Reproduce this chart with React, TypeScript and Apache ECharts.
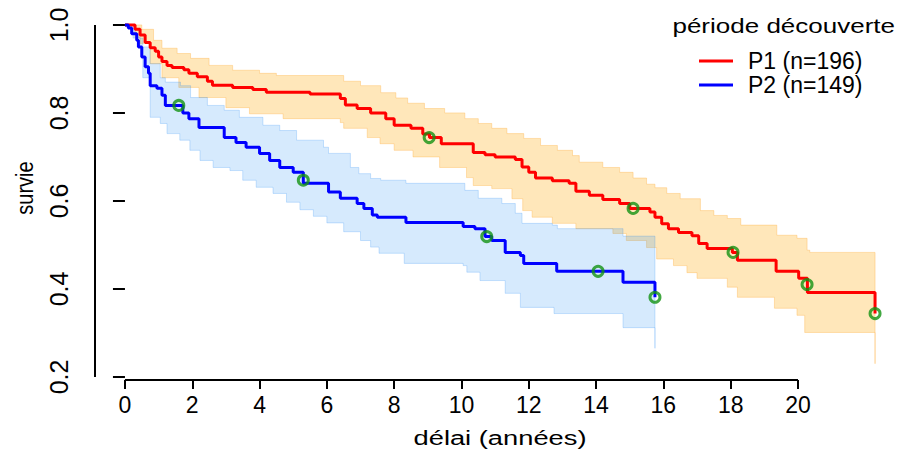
import React, { useEffect, useRef } from 'react';
import * as echarts from 'echarts';

const FONT = '"Liberation Sans", Arial, Helvetica, sans-serif';

const xTicks = [0, 2, 4, 6, 8, 10, 12, 14, 16, 18, 20];
const yTicks = [0.2, 0.4, 0.6, 0.8, 1.0];
const xLimits = [-0.89, 23.18];
const yLimits = [0.193, 1.03];

const seriesNames = ['P1 (n=196)', 'P2 (n=149)'];
const legendTitle = 'période découverte';
const xTitle = 'délai (années)';
const yTitle = 'survie';

// P1 (red) Kaplan-Meier estimate
const p1Time = [0, 0.3, 0.45, 0.6, 0.75, 0.9, 1.0, 1.1, 1.25, 1.4, 1.75, 1.9, 2.15, 2.45, 2.6, 3.2, 3.8, 4.2, 5.5, 6.4, 6.55, 6.9, 7.3, 7.75, 8.0, 8.5, 8.85, 9.05, 9.4, 10.35, 10.7, 11.0, 11.6, 11.8, 12.0, 12.2, 12.7, 13.2, 13.4, 13.8, 14.2, 14.7, 15.0, 15.6, 15.75, 15.95, 16.15, 16.45, 16.85, 17.05, 17.3, 18.05, 18.2, 19.35, 20.02, 20.28, 22.29];
const p1Surv = [1.0, 0.99, 0.977, 0.96, 0.948, 0.94, 0.927, 0.917, 0.908, 0.903, 0.898, 0.89, 0.882, 0.872, 0.863, 0.858, 0.853, 0.847, 0.843, 0.833, 0.818, 0.81, 0.8, 0.787, 0.772, 0.765, 0.752, 0.744, 0.73, 0.71, 0.705, 0.7, 0.694, 0.677, 0.665, 0.652, 0.646, 0.64, 0.622, 0.613, 0.603, 0.594, 0.583, 0.575, 0.563, 0.548, 0.537, 0.528, 0.521, 0.503, 0.492, 0.483, 0.465, 0.44, 0.424, 0.392, 0.344];
const p1UpperTime = [0, 0.5, 0.85, 1.1, 1.55, 1.95, 2.5, 3.2, 4.0, 4.5, 6.5, 7.0, 7.6, 8.05, 8.4, 8.9, 9.5, 10.1, 10.5, 10.9, 11.35, 11.85, 12.35, 12.85, 13.3, 13.5, 14.2, 14.7, 15.1, 15.5, 15.75, 16.1, 16.5, 17.1, 17.5, 17.9, 18.3, 19.37, 19.97, 20.27, 20.35, 22.29];
const p1Upper = [1.0, 0.99, 0.965, 0.947, 0.935, 0.924, 0.908, 0.897, 0.89, 0.885, 0.872, 0.862, 0.846, 0.834, 0.822, 0.81, 0.8, 0.787, 0.776, 0.765, 0.753, 0.742, 0.726, 0.715, 0.703, 0.688, 0.676, 0.665, 0.652, 0.638, 0.63, 0.617, 0.605, 0.578, 0.567, 0.56, 0.545, 0.522, 0.515, 0.488, 0.483, 0.483];
const p1LowerTime = [0, 0.3, 0.45, 0.75, 1.1, 1.6, 2.2, 3.0, 3.7, 4.7, 6.4, 6.5, 7.2, 7.58, 8.0, 8.56, 9.35, 10.15, 10.35, 10.9, 11.5, 11.82, 12.1, 12.7, 13.4, 14.5, 14.9, 15.5, 15.8, 16.3, 16.7, 17.0, 17.9, 18.2, 19.3, 19.97, 20.2, 22.29];
const p1Lower = [1.0, 0.97, 0.958, 0.912, 0.88, 0.858, 0.835, 0.812, 0.798, 0.787, 0.778, 0.765, 0.744, 0.73, 0.715, 0.7, 0.676, 0.653, 0.635, 0.628, 0.605, 0.578, 0.563, 0.549, 0.537, 0.526, 0.51, 0.494, 0.468, 0.453, 0.437, 0.424, 0.404, 0.381, 0.356, 0.34, 0.301, 0.23];

// P2 (blue) Kaplan-Meier estimate
const p2Time = [0, 0.1, 0.2, 0.35, 0.4, 0.5, 0.6, 0.7, 0.75, 0.95, 1.1, 1.2, 1.72, 1.9, 2.2, 2.95, 3.3, 3.6, 4.0, 4.3, 4.6, 5.0, 5.3, 6.05, 6.4, 6.9, 7.1, 7.35, 7.5, 8.35, 10.05, 10.4, 10.7, 10.9, 11.3, 11.75, 11.85, 12.83, 14.8, 15.75];
const p2Surv = [1.0, 0.993, 0.98, 0.965, 0.95, 0.927, 0.905, 0.89, 0.862, 0.856, 0.84, 0.817, 0.8, 0.787, 0.767, 0.744, 0.733, 0.722, 0.708, 0.692, 0.676, 0.665, 0.64, 0.62, 0.606, 0.594, 0.583, 0.568, 0.563, 0.551, 0.542, 0.537, 0.519, 0.51, 0.483, 0.476, 0.458, 0.44, 0.415, 0.381];
const p2UpperTime = [0, 0.3, 0.45, 0.75, 1.05, 1.2, 1.65, 1.95, 2.45, 2.95, 3.4, 4.1, 4.6, 5.1, 5.9, 6.05, 6.7, 6.95, 7.3, 7.6, 8.35, 10.1, 10.5, 11.2, 11.6, 11.8, 12.7, 12.85, 14.8, 15.75];
const p2Upper = [1.0, 0.98, 0.95, 0.912, 0.88, 0.87, 0.862, 0.835, 0.817, 0.806, 0.79, 0.772, 0.76, 0.738, 0.722, 0.708, 0.676, 0.662, 0.651, 0.647, 0.64, 0.624, 0.606, 0.594, 0.572, 0.549, 0.545, 0.537, 0.52, 0.517];
const p2LowerTime = [0, 0.24, 0.53, 0.75, 1.05, 1.25, 1.63, 1.93, 2.23, 2.62, 3.12, 3.5, 3.9, 4.4, 4.8, 5.2, 5.6, 6.0, 6.5, 7.0, 7.3, 7.55, 8.3, 10.05, 10.16, 10.55, 11.3, 11.75, 12.75, 14.8, 15.75];
const p2Lower = [1.0, 0.97, 0.88, 0.79, 0.776, 0.753, 0.738, 0.715, 0.692, 0.676, 0.669, 0.647, 0.631, 0.617, 0.597, 0.58, 0.565, 0.55, 0.53, 0.51, 0.495, 0.481, 0.458, 0.453, 0.438, 0.419, 0.39, 0.358, 0.344, 0.312, 0.265];

// green marks on the curves
const p1MarkTime = [9.04, 15.1, 18.07, 20.27, 22.29];
const p1MarkSurv = [0.744, 0.583, 0.483, 0.41, 0.344];
const p2MarkTime = [1.6, 5.3, 10.75, 14.06, 15.75];
const p2MarkSurv = [0.817, 0.647, 0.519, 0.44, 0.381];

function stepPts(ts: number[], vs: number[]): number[][] {
  const pts: number[][] = [];
  for (let i = 0; i < ts.length; i++) {
    pts.push([ts[i], vs[i]]);
    if (i < ts.length - 1) pts.push([ts[i + 1], vs[i]]);
  }
  return pts;
}

function bandPolygon(ut: number[], u: number[], lt: number[], l: number[]): number[][] {
  return stepPts(ut, u).concat(stepPts(lt, l).reverse());
}

function pairs(ts: number[], vs: number[]): number[][] {
  return ts.map((t, i) => [t, vs[i]]);
}

export default function App() {
  const ref = useRef<HTMLDivElement>(null);

  useEffect(() => {
    if (!ref.current) return;
    const chart = echarts.init(ref.current, undefined, { renderer: 'svg' });

    const band1 = bandPolygon(p1UpperTime, p1Upper, p1LowerTime, p1Lower);
    const band2 = bandPolygon(p2UpperTime, p2Upper, p2LowerTime, p2Lower);

    const bandSeries = (poly: number[][], fill: string, stroke: string, z: number) => ({
      type: 'custom',
      silent: true,
      z,
      data: [[0, 1]],
      renderItem: (_params: any, api: any) => ({
        type: 'polygon',
        shape: { points: poly.map((p) => api.coord(p)) },
        style: { fill, stroke, lineWidth: 1 },
      }),
    });

    const markSeries = (ts: number[], vs: number[]) => ({
      type: 'scatter',
      silent: true,
      z: 5,
      symbol: 'circle',
      symbolSize: 10,
      data: pairs(ts, vs),
      itemStyle: { color: 'rgba(0,0,0,0)', borderColor: '#139213', borderWidth: 3 },
    });

    const axisLineSeries = (data: number[][]) => ({
      type: 'line',
      silent: true,
      clip: false,
      z: 6,
      symbol: 'none',
      data,
      lineStyle: { color: '#000', width: 2 },
    });

    const textStyle = (text: string, size: number, align: string) => ({
      text,
      fontSize: size,
      fontFamily: FONT,
      fontWeight: 'normal',
      fill: '#000',
      align,
      verticalAlign: 'middle',
      textAlign: align,
      textVerticalAlign: 'middle',
    });

    chart.setOption({
      animation: false,
      backgroundColor: '#ffffff',
      grid: { left: 95, right: 1, top: 11.72, bottom: 72, containLabel: false },
      xAxis: {
        type: 'value',
        min: xLimits[0],
        max: xLimits[1],
        axisLine: { show: false },
        splitLine: { show: false },
        axisTick: {
          show: true,
          customValues: xTicks,
          length: 9,
          lineStyle: { color: '#000', width: 2 },
        },
        axisLabel: {
          customValues: xTicks,
          margin: 13,
          color: '#000',
          fontSize: 23,
          fontFamily: FONT,
          formatter: (v: number) => String(v),
        },
      },
      yAxis: {
        type: 'value',
        min: yLimits[0],
        max: yLimits[1],
        axisLine: { show: false },
        splitLine: { show: false },
        axisTick: {
          show: true,
          customValues: yTicks,
          length: 12,
          lineStyle: { color: '#000', width: 2 },
        },
        axisLabel: {
          customValues: yTicks,
          rotate: 90,
          margin: 24,
          color: '#000',
          fontSize: 25,
          fontFamily: FONT,
          formatter: (v: number) => v.toFixed(1),
        },
      },
      legend: {
        data: seriesNames,
        orient: 'vertical',
        left: 694,
        top: 44,
        itemGap: 0,
        itemWidth: 34,
        itemHeight: 3,
        icon: 'rect',
        selectedMode: false,
        textStyle: {
          color: '#000',
          fontSize: 23,
          lineHeight: 24,
          fontFamily: FONT,
          padding: [0, 0, 0, 10],
        },
      },
      graphic: [
        {
          type: 'text',
          x: 895,
          y: 26,
          scaleX: 1.3,
          style: textStyle(legendTitle, 20, 'right'),
        },
        {
          type: 'text',
          x: 500,
          y: 438,
          scaleX: 1.3,
          style: textStyle(xTitle, 21, 'center'),
        },
        {
          type: 'text',
          x: 25,
          y: 188,
          rotation: Math.PI / 2,
          scaleY: 1.15,
          style: textStyle(yTitle, 20, 'center'),
        },
      ],
      series: [
        bandSeries(band1, 'rgba(255,165,0,0.27)', 'rgba(255,175,60,0.35)', 1),
        bandSeries(band2, 'rgba(30,136,245,0.18)', 'rgba(30,136,245,0.22)', 2),
        {
          name: seriesNames[0],
          type: 'line',
          step: 'end',
          z: 3,
          color: '#ff0000',
          symbol: 'none',
          showSymbol: false,
          data: pairs(p1Time, p1Surv),
          lineStyle: { color: '#ff0000', width: 3 },
        },
        {
          name: seriesNames[1],
          type: 'line',
          step: 'end',
          z: 4,
          color: '#0000ff',
          symbol: 'none',
          showSymbol: false,
          data: pairs(p2Time, p2Surv),
          lineStyle: { color: '#0000ff', width: 3 },
        },
        markSeries(p1MarkTime, p1MarkSurv),
        markSeries(p2MarkTime, p2MarkSurv),
        axisLineSeries([[xTicks[0], yLimits[0]], [xTicks[xTicks.length - 1], yLimits[0]]]),
        axisLineSeries([[xLimits[0], yTicks[0]], [xLimits[0], yTicks[yTicks.length - 1]]]),
      ],
    });

    return () => chart.dispose();
  }, []);

  return (
    <div
      ref={ref}
      style={{ position: 'absolute', left: 0, top: 0, width: 906, height: 452, background: '#fff' }}
    />
  );
}
